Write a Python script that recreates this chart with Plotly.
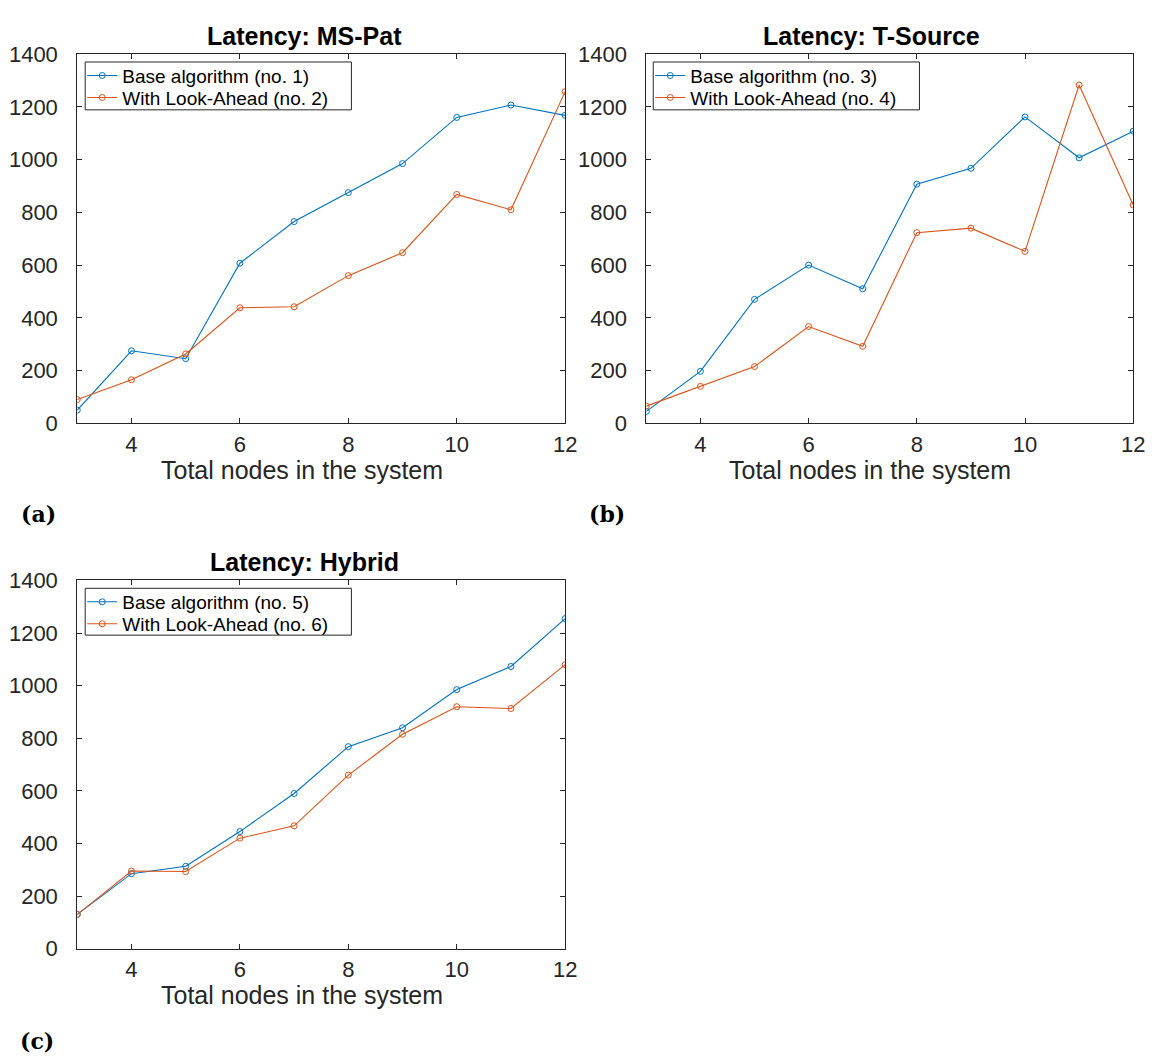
import plotly.graph_objects as go

# ---------------- data ----------------
nodes = [3, 4, 5, 6, 7, 8, 9, 10, 11, 12]

mspat_base = [50, 275, 245, 607, 765, 875, 985, 1160, 1207, 1168]
mspat_look = [90, 165, 263, 438, 442, 560, 647, 868, 810, 1258]

tsource_base = [45, 197, 470, 600, 510, 907, 967, 1162, 1007, 1108]
tsource_look = [65, 140, 215, 367, 292, 723, 740, 652, 1283, 828]

hybrid_base = [130, 285, 313, 445, 590, 768, 840, 985, 1073, 1255]
hybrid_look = [130, 295, 293, 420, 467, 660, 815, 920, 913, 1080]

titles = ["Latency: MS-Pat", "Latency: T-Source", "Latency: Hybrid"]
base_names = ["Base algorithm (no. 1)", "Base algorithm (no. 3)", "Base algorithm (no. 5)"]
look_names = ["With Look-Ahead (no. 2)", "With Look-Ahead (no. 4)", "With Look-Ahead (no. 6)"]
panel_labels = ["(a)", "(b)", "(c)"]
x_title = "Total nodes in the system"
x_ticks = [4, 6, 8, 10, 12]
y_ticks = [0, 200, 400, 600, 800, 1000, 1200, 1400]

# ---------------- layout geometry (pixels) ----------------
W, H = 1158, 1061
BLUE = "#0072BD"
ORANGE = "#D95319"
AX = "#262626"
SANS = "Liberation Sans, Arial, Helvetica, sans-serif"

# (left, right, top, bottom) of each axes box
boxes = [(70, 563, 35, 413), (645, 1137, 35, 413), (70, 563, 574, 951)]
title_cx = [300, 873, 300]
xlabel_cx = [297, 871, 297]
legend_box = [(78, 43, 347, 92), (652, 43, 921, 92), (78, 582, 347, 630)]
panel_label_pos = [(11, 506), (585, 506), (10, 1046)]

series = [(mspat_base, mspat_look), (tsource_base, tsource_look), (hybrid_base, hybrid_look)]


def px(x):
    return x / W


def py(y):
    return 1 - y / H


fig = go.Figure()
annotations = []
shapes = []
layout = dict(
    width=W, height=H, autosize=False,
    margin=dict(l=0, r=0, t=0, b=0),
    paper_bgcolor="white", plot_bgcolor="white",
    showlegend=True,
    font=dict(family=SANS, color=AX),
)

leg_count = 0
for i, ((l, r, t, b), (base, look)) in enumerate(zip(boxes, series)):
    sfx = "" if i == 0 else str(i + 1)
    bl, bt, br, bb = legend_box[i]
    row_y = [bt + 14, bt + 36.5]

    for j, (vals, name, col) in enumerate([(base, base_names[i], BLUE),
                                           (look, look_names[i], ORANGE)]):
        leg_count += 1
        leg = "legend" if leg_count == 1 else f"legend{leg_count}"
        fig.add_trace(go.Scatter(
            x=nodes, y=vals, mode="lines+markers", name=name,
            line=dict(color=col, width=1.1),
            marker=dict(symbol="circle-open", size=6, color=col, line=dict(width=1)),
            xaxis="x" + sfx, yaxis="y" + sfx, legend=leg,
        ))
        layout[leg] = dict(
            x=px(bl - 3), y=py(row_y[j]), xanchor="left", yanchor="middle",
            bgcolor="rgba(0,0,0,0)", borderwidth=0,
            font=dict(family=SANS, size=19, color="black"),
            tracegroupgap=0, itemwidth=30,
        )

    common = dict(
        showline=True, linecolor=AX, linewidth=1, mirror="ticks",
        ticks="inside", ticklen=5, tickwidth=1, tickcolor=AX,
        showgrid=False, zeroline=False,
        tickfont=dict(family=SANS, size=22, color=AX),
    )
    layout["xaxis" + sfx] = dict(
        common, domain=[px(l), px(r)], anchor="y" + sfx,
        range=[3, 12], tickvals=x_ticks, ticklabelstandoff=1,
    )
    layout["yaxis" + sfx] = dict(
        common, domain=[py(b), py(t)], anchor="x" + sfx,
        range=[0, 1400], tickvals=y_ticks, ticklabelstandoff=14,
    )

    # legend frame (tight box like the original)
    shapes.append(dict(
        type="rect", xref="paper", yref="paper",
        x0=px(bl), x1=px(br), y0=py(bb), y1=py(bt),
        line=dict(color=AX, width=1), fillcolor="rgba(0,0,0,0)", layer="above",
    ))

    # title
    annotations.append(dict(
        text="<b>" + titles[i] + "</b>", xref="paper", yref="paper",
        x=px(title_cx[i]), y=py(t - 19), xanchor="center", yanchor="middle",
        showarrow=False, font=dict(family=SANS, size=25, color="black"),
    ))
    # x-axis label
    annotations.append(dict(
        text=x_title, xref="paper", yref="paper",
        x=px(xlabel_cx[i]), y=py(b + 48), xanchor="center", yanchor="middle",
        showarrow=False, font=dict(family=SANS, size=25, color=AX),
    ))
    # panel label
    ax_, ay_ = panel_label_pos[i]
    annotations.append(dict(
        text="<b>" + panel_labels[i] + "</b>", xref="paper", yref="paper",
        x=px(ax_), y=py(ay_), xanchor="left", yanchor="middle",
        showarrow=False, font=dict(family="DejaVu Serif, serif", size=22, color="black"),
    ))

layout["annotations"] = annotations
layout["shapes"] = shapes
fig.update_layout(**layout)
fig.write_html("out.html")
